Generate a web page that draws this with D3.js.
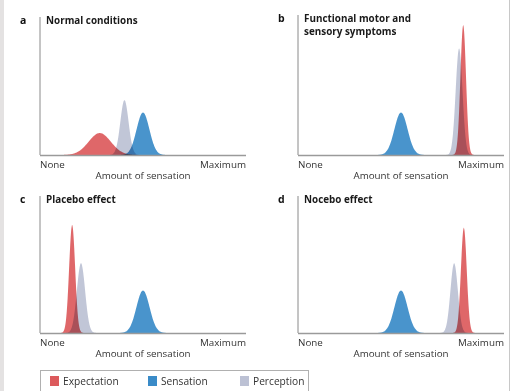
<!DOCTYPE html>
<html>
<head>
<meta charset="utf-8">
<script src="https://cdn.jsdelivr.net/npm/d3@7"></script>
<style>
  body { margin: 0; background: #fff; }
  text { font-family: "Open Sans", "Noto Sans", sans-serif; fill: #333; }
</style>
</head>
<body>
<svg id="paper"></svg>
<script>
// series names (legend order)
let seriesNames = ["Expectation", "Sensation", "Perception"];
let panelLetters = ["a", "b", "c", "d"];
let panelTitles = [["Normal conditions"], ["Functional motor and", "sensory symptoms"], ["Placebo effect"], ["Nocebo effect"]];
let tickLabels = ["None", "Maximum"];
let axisTitle = "Amount of sensation";

// distribution parameters, x on 0-100 (None..Maximum), peak height on 0-100
// one entry per panel a, b, c, d
let expectationMean = [29, 80.2, 15.6, 80.5];
let expectationSpread = [5.4, 1.35, 1.45, 1.4];
let expectationPeak = [16, 95, 79, 77];

let sensationMean = [50, 50, 50, 50];
let sensationSpread = [3.1, 3.2, 3.2, 3.2];
let sensationPeak = [31, 31, 31, 31];

let perceptionMean = [41, 78.2, 19.9, 75.8];
let perceptionSpread = [2.0, 1.65, 2.0, 1.8];
let perceptionPeak = [40, 78, 51, 51];

let colors = {Expectation: "#dc5a5c", Sensation: "#3a8bc8", Perception: "#bcc1d4"};

let width = 513, height = 391;
let svg = d3.select("#paper").attr("width", width).attr("height", height);

// faint screenshot edges
svg.append("rect").attr("x", 0).attr("y", 0).attr("width", 4).attr("height", height).attr("fill", "#e4e2e2");
svg.append("line").attr("x1", 509.5).attr("x2", 509.5).attr("y1", 0).attr("y2", height)
    .attr("stroke", "#c8c8c8").attr("stroke-width", 1);

let panelOrigins = [
    {x: 40, top: 17, base: 155},
    {x: 298, top: 15, base: 155},
    {x: 40, top: 196, base: 333},
    {x: 298, top: 196, base: 333}
];
let axisLength = 206;

let xs = d3.range(0, 100.01, 0.2);

function density(mean, spread, peak) {
    return xs.map(v => ({x: v, y: peak * Math.exp(-0.5 * Math.pow((v - mean) / spread, 2))}));
}

panelOrigins.forEach((p, i) => {
    let x = d3.scaleLinear().domain([0, 100]).range([p.x, p.x + axisLength]);
    let y = d3.scaleLinear().domain([0, 100]).range([p.base, p.base - 137]);
    let g = svg.append("g");

    let curves = [
        {name: "Sensation", values: density(sensationMean[i], sensationSpread[i], sensationPeak[i])},
        {name: "Perception", values: density(perceptionMean[i], perceptionSpread[i], perceptionPeak[i])},
        {name: "Expectation", values: density(expectationMean[i], expectationSpread[i], expectationPeak[i])}
    ];

    let area = d3.area()
        .x(d => x(d.x))
        .y0(y(0))
        .y1(d => y(d.y))
        .curve(d3.curveBasis);

    g.selectAll(".dist")
        .data(curves)
        .enter()
        .append("path")
        .classed("dist", true)
        .attr("d", d => area(d.values))
        .attr("fill", d => colors[d.name])
        .attr("fill-opacity", 0.92)
        .style("mix-blend-mode", "multiply");

    // axes
    g.append("line")
        .attr("x1", p.x).attr("x2", p.x)
        .attr("y1", p.top).attr("y2", p.base)
        .attr("stroke", "#8a8a8a").attr("stroke-width", 1);
    g.append("line")
        .attr("x1", p.x).attr("x2", p.x + axisLength)
        .attr("y1", p.base + 0.5).attr("y2", p.base + 0.5)
        .attr("stroke", "#9a9a9a").attr("stroke-width", 1.3);

    g.append("text")
        .attr("x", p.x - 20).attr("y", p.top + 7)
        .style("font-weight", "bold").style("font-size", "10.5px").style("fill", "#111")
        .text(panelLetters[i]);

    panelTitles[i].forEach((t, k) => {
        g.append("text")
            .attr("x", p.x + 6).attr("y", p.top + 7 + k * 13)
            .style("font-weight", "bold").style("font-size", "9.9px").style("fill", "#1a1a1a")
            .text(t);
    });

    g.append("text")
        .attr("x", x(0)).attr("y", p.base + 13)
        .style("font-size", "9.8px")
        .text(tickLabels[0]);
    g.append("text")
        .attr("x", x(100)).attr("y", p.base + 13)
        .style("font-size", "9.8px").style("text-anchor", "end")
        .text(tickLabels[1]);
    g.append("text")
        .attr("x", x(50)).attr("y", p.base + 24)
        .style("font-size", "9.8px").style("text-anchor", "middle")
        .text(axisTitle);
});

// legend
let legend = svg.append("g");
legend.append("rect")
    .attr("x", 40.5).attr("y", 370.5)
    .attr("width", 268).attr("height", 30)
    .attr("fill", "none").attr("stroke", "#b0b0b0");
let legendX = [50, 148, 240];
seriesNames.forEach((s, i) => {
    legend.append("rect")
        .attr("x", legendX[i]).attr("y", 376)
        .attr("width", 9).attr("height", 10)
        .attr("fill", colors[s]);
    legend.append("text")
        .attr("x", legendX[i] + 13).attr("y", 385)
        .style("font-size", "10.2px")
        .text(s);
});
</script>
</body>
</html>
